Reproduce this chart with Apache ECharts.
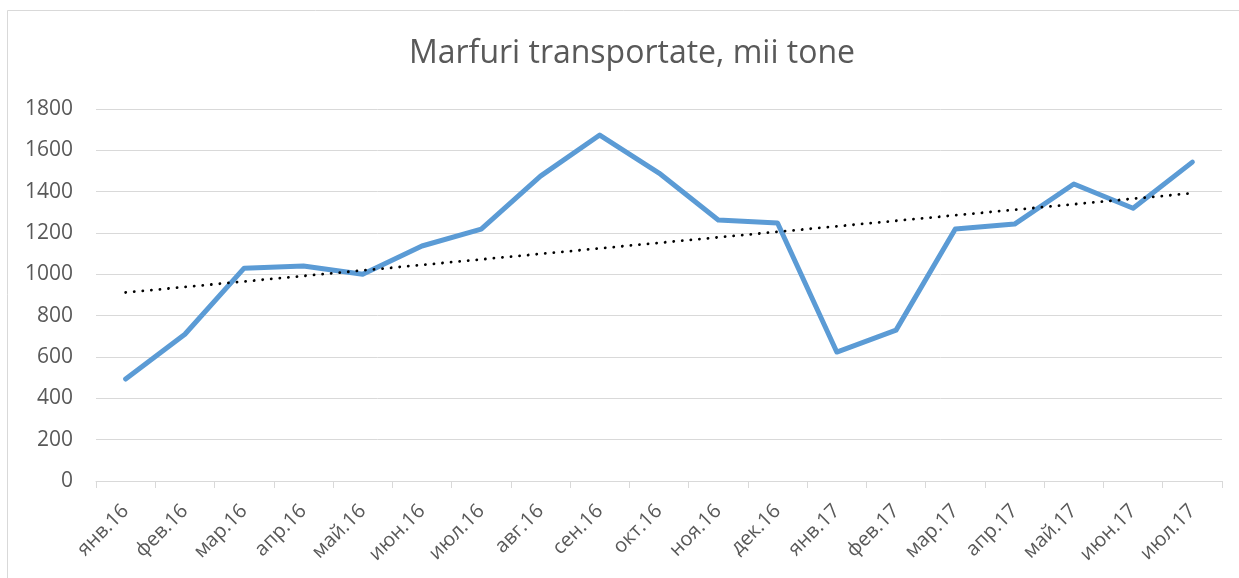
<!DOCTYPE html>
<html>
<head>
<meta charset="utf-8">
<script src="https://cdn.jsdelivr.net/npm/echarts@6/dist/echarts.min.js"></script>
<style>html,body{margin:0;padding:0;background:#fff}#c{width:1239px;height:578px}</style>
</head>
<body>
<div id="c"></div>
<script>
const titleText = 'Marfuri transportate, mii tone';
const categories = ['янв.16','фев.16','мар.16','апр.16','май.16','июн.16','июл.16','авг.16','сен.16','окт.16','ноя.16','дек.16','янв.17','фев.17','мар.17','апр.17','май.17','июн.17','июл.17'];
const values = [493, 710, 1030, 1040, 1000, 1137, 1219, 1475, 1674, 1490, 1263, 1248, 624, 730, 1219, 1243, 1437, 1320, 1543];

// Linear trendline (least squares), as in the source spreadsheet
const n = values.length;
const mx = (n - 1) / 2;
const my = values.reduce((a, b) => a + b, 0) / n;
let sxy = 0, sxx = 0;
values.forEach((v, i) => { sxy += (i - mx) * (v - my); sxx += (i - mx) * (i - mx); });
const slope = sxy / sxx;
const trend = values.map((v, i) => +(my + slope * (i - mx)).toFixed(2));

const FONT = '"Open Sans", "Liberation Sans", sans-serif';
const chart = echarts.init(document.getElementById('c'), null, {renderer: 'canvas'});
chart.setOption({
  animation: false,
  backgroundColor: '#fff',
  title: {
    text: titleText,
    left: 627, top: 33, textAlign: 'center',
    textStyle: {color: '#595959', fontSize: 32, fontWeight: 'normal', fontFamily: FONT}
  },
  graphic: [{
    type: 'rect', silent: true,
    shape: {x: 7.5, y: 10.5, width: 1300, height: 700},
    style: {fill: 'none', stroke: '#D9D9D9', lineWidth: 1}
  }],
  grid: {left: 96, right: 17, top: 109, bottom: 97, containLabel: false},
  xAxis: {
    type: 'category',
    data: categories,
    boundaryGap: true,
    axisLine: {lineStyle: {color: '#D9D9D9', width: 1}},
    axisTick: {show: true, alignWithLabel: false, length: 7, lineStyle: {color: '#D9D9D9'}},
    axisLabel: {rotate: 45, interval: 0, color: '#595959', fontSize: 20, fontFamily: FONT, margin: 27}
  },
  yAxis: {
    type: 'value',
    min: 0, max: 1800, interval: 200,
    axisLine: {show: false},
    axisTick: {show: false},
    splitLine: {lineStyle: {color: '#D9D9D9', width: 1}},
    axisLabel: {color: '#595959', fontSize: 21, fontFamily: FONT, margin: 23, formatter: v => String(v)}
  },
  series: [
    {
      type: 'line', data: values, symbol: 'none', z: 2,
      lineStyle: {color: '#5B9BD5', width: 5, cap: 'round', join: 'round'}
    },
    {
      type: 'line', data: trend, symbol: 'none', z: 3,
      lineStyle: {color: '#000', width: 2.8, type: [0.1, 8.5], cap: 'round'}
    }
  ]
});
</script>
</body>
</html>
